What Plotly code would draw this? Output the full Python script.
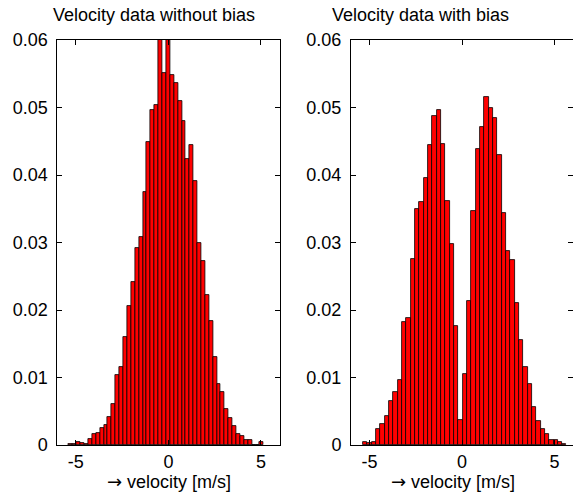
import numpy as np
import plotly.graph_objects as go

# ---- data ----
titles = ["Velocity data without bias", "Velocity data with bias"]
x_label = "<span style='font-family:DejaVu Sans'>→</span> velocity [m/s]"
x_tick_vals = [-5, 0, 5]
x_tick_text = ["-5", "0", "5"]
y_tick_vals = [0, 0.01, 0.02, 0.03, 0.04, 0.05, 0.06]
y_tick_text = ["0", "0.01", "0.02", "0.03", "0.04", "0.05", "0.06"]

left_start = -5.38
left_width = 0.2105
left_heights = [
    0.0001, 0.0001, 0.0004, 0.0003, 0.0002, 0.0009, 0.0017, 0.0018, 0.0025, 0.0030,
    0.0042, 0.0061, 0.0104, 0.0116, 0.0160, 0.0206, 0.0241, 0.0292, 0.0308,
    0.0375, 0.0449, 0.0497, 0.0504, 0.0610, 0.0551, 0.0610, 0.0548, 0.0536, 0.0510,
    0.0480, 0.0423, 0.0445, 0.0391,
    0.0299, 0.0272, 0.0222, 0.0184, 0.0131, 0.0091, 0.0078, 0.0053, 0.0040, 0.0028,
    0.0016, 0.0013, 0.0007, 0.0007, 0.0, 0.0, 0.0004,
]

right_start = -5.35
right_width = 0.234
right_heights = [
    0.0005, 0.0003, 0.0005, 0.0023, 0.0031, 0.0043, 0.0065, 0.0078, 0.0096,
    0.0182, 0.0188, 0.0275, 0.0350, 0.0360, 0.0395, 0.0444, 0.0487, 0.0496,
    0.0446, 0.0361, 0.0298, 0.0176,
    0.0037,
    0.0105, 0.0213, 0.0347, 0.0439, 0.0471, 0.0516, 0.0500, 0.0484, 0.0429,
    0.0344, 0.0288, 0.0274, 0.0211, 0.0156, 0.0116, 0.0091, 0.0056, 0.0036,
    0.0023, 0.0017, 0.0008, 0.0007, 0.0005, 0.0001,
]

left_centers = left_start + left_width * (np.arange(len(left_heights)) + 0.5)
right_centers = right_start + right_width * (np.arange(len(right_heights)) + 0.5)

W, H = 573, 497
FONT = "Liberation Sans, Arial, Helvetica, sans-serif"

fig = go.Figure()
bar_style = dict(marker=dict(color="#ff0000", line=dict(color="black", width=0.8)),
                 showlegend=False, hoverinfo="skip")
fig.add_trace(go.Bar(x=left_centers, y=left_heights, width=left_width,
                     xaxis="x", yaxis="y", **bar_style))
fig.add_trace(go.Bar(x=right_centers, y=right_heights, width=right_width,
                     xaxis="x2", yaxis="y2", **bar_style))

ydom = [1 - 445 / H, 1 - 40 / H]
x1dom = [57.3 / W, 279.5 / W]
x2dom = [351.0 / W, 1.0]

axis_common = dict(showline=True, linecolor="black", linewidth=1, mirror="ticks",
                   ticks="inside", ticklen=5, tickcolor="black", showgrid=False,
                   zeroline=False, automargin=False,
                   tickfont=dict(family=FONT, size=18, color="black"))

xcommon = dict(range=[-6, 6], tickmode="array", tickvals=x_tick_vals,
               ticktext=x_tick_text, **axis_common)
ycommon = dict(range=[0, 0.06], tickmode="array", tickvals=y_tick_vals,
               ticktext=y_tick_text, ticklabelstandoff=5, **axis_common)

fig.update_layout(
    width=W, height=H,
    margin=dict(l=0, r=0, t=0, b=0),
    paper_bgcolor="white", plot_bgcolor="white",
    bargap=0,
    font=dict(family=FONT, size=18, color="black"),
    xaxis=dict(domain=x1dom, anchor="y", **xcommon),
    yaxis=dict(domain=ydom, anchor="x", **ycommon),
    xaxis2=dict(domain=x2dom, anchor="y2", **xcommon),
    yaxis2=dict(domain=ydom, anchor="x2", **ycommon),
)

annots = [
    dict(text=titles[0], x=154 / W, y=1 - 15 / H),
    dict(text=titles[1], x=420 / W, y=1 - 15 / H),
    dict(text=x_label, x=169 / W, y=1 - 481 / H),
    dict(text=x_label, x=453 / W, y=1 - 481 / H),
]
for a in annots:
    fig.add_annotation(xref="paper", yref="paper", xanchor="center", yanchor="middle",
                       showarrow=False, font=dict(family=FONT, size=18, color="black"), **a)

fig.write_html("out.html", config={"displayModeBar": False},
               post_script="document.body.style.margin='0px';document.body.style.overflow='hidden';")
